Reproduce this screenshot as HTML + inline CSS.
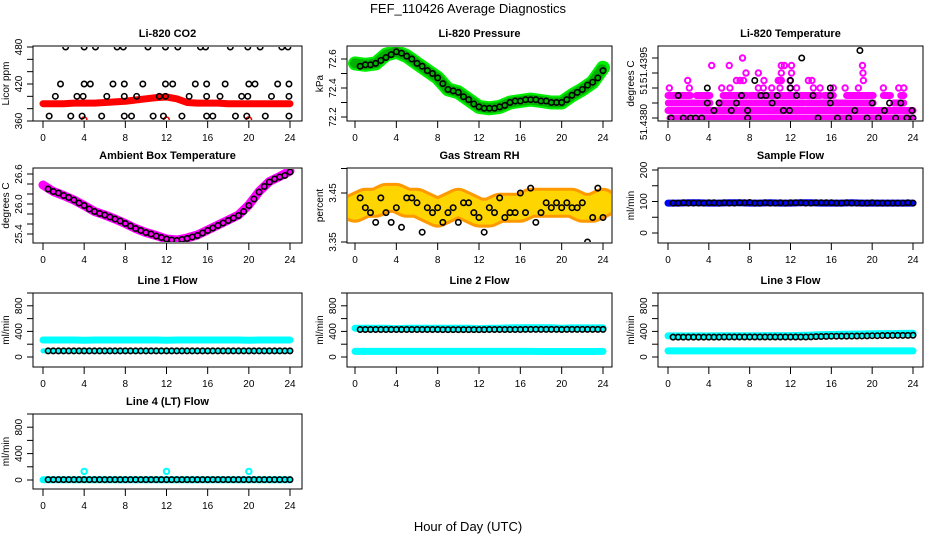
<!DOCTYPE html>
<html><head><meta charset="utf-8">
<style>
html,body{margin:0;padding:0;background:#fff;}
svg{display:block;font-family:"Liberation Sans",sans-serif;}
</style></head>
<body>
<svg id="chart" width="936" height="540" viewBox="0 0 936 540" xmlns="http://www.w3.org/2000/svg">
<rect width="936" height="540" fill="#fff"/>
<text x="468" y="13" text-anchor="middle" font-size="13">FEF_110426  Average Diagnostics</text>
<text x="468" y="531" text-anchor="middle" font-size="13">Hour of Day (UTC)</text>
</svg>
<script>
// ---------- data ----------
const hourly = [0,1,2,3,4,5,6,7,8,9,10,11,12,13,14,15,16,17,18,19,20,21,22,23,24];
const halfHours = [0.5,1,1.5,2,2.5,3,3.5,4,4.5,5,5.5,6,6.5,7,7.5,8,8.5,9,9.5,10,10.5,11,11.5,12,12.5,13,13.5,14,14.5,15,15.5,16,16.5,17,17.5,18,18.5,19,19.5,20,20.5,21,21.5,22,22.5,23,23.5,24];
const xTicks = [0,4,8,12,16,20,24];

const co2Band = [388,388,388,389,389,389,390,391,392,394,396,398,399,396,390,389,389,389,388,388,388,388,388,388,388];
const co2PtHours = [2.2,4.0,5.1,7.2,7.8,10.2,11.9,13.1,15.3,15.8,18.2,19.9,21.1,23.2,23.8,
 1.7,4,4.6,6.8,7.9,9.7,11.9,12.6,14.8,15.9,17.7,20,20.6,22.8,23.9,
 1.2,3.3,3.9,6.2,7.9,9.1,11.3,11.9,14.2,15.9,17.2,19.3,19.9,22.2,23.9,
 0.6,2.7,3.8,5.7,7.9,8.6,10.7,11.7,13.5,15.9,16.5,18.7,19.8,21.6,23.9];
const co2PtVals = [480,480,480,480,480,480,480,480,480,480,480,480,480,480,480,
 420,420,420,420,420,420,420,420,420,420,420,420,420,420,420,
 400,400,400,400,400,400,400,400,400,400,400,400,400,400,400,
 368,368,368,368,368,368,368,368,368,368,368,368,368,368,368];
const co2LowHours = [4,12,20];
const co2LowVals = [362,362,362];

const presBand = [72.57,72.56,72.57,72.63,72.65,72.62,72.57,72.52,72.47,72.39,72.37,72.32,72.27,72.26,72.27,72.30,72.31,72.32,72.31,72.30,72.30,72.35,72.39,72.44,72.54];
const presPts = [72.55,72.56,72.56,72.57,72.59,72.61,72.63,72.65,72.64,72.62,72.60,72.57,72.55,72.52,72.50,72.47,72.43,72.39,72.38,72.37,72.34,72.32,72.29,72.27,72.26,72.26,72.26,72.27,72.28,72.30,72.31,72.31,72.32,72.32,72.32,72.31,72.31,72.30,72.30,72.30,72.32,72.35,72.37,72.39,72.42,72.44,72.47,72.52];

const tempLevels = [51.4380,51.43825,51.4385,51.43875];
const tempRanges = [
 [[0.2,24]],
 [[0,24]],
 [[0.03,2.65],[2.8,4.1],[5.1,6.7],[7.06,9.0],[9.2,13.3],[13.6,15.9],[16.2,20.1],[22.1,23.1]],
 [[0,2.2],[2.8,4.1],[5.4,7.7],[8.0,10.6],[11.0,12.6],[13.0,14.9],[15.3,16.2],[17.5,20.1],[21.1,21.8],[22.8,23.1]]
];
const tempMagHours = [0.13,2.09,5.26,6.07,8.85,9.34,10.16,10.97,11.96,12.6,14.24,14.9,16.2,17.35,18.65,21.1,22.6,23.1,
 1.93,6.7,7.06,7.4,9.4,10.8,10.97,11.1,11.96,13.75,14.1,19.14,
 7.64,8.85,11.1,12.1,19.1, 4.28,6.0,11.1,11.4,12.1,19.05, 7.3];
const tempMagVals = [51.4390,51.4390,51.4390,51.4390,51.4390,51.4390,51.4390,51.4390,51.4390,51.4390,51.4390,51.4390,51.4390,51.4390,51.4390,51.4390,51.4390,51.4390,
 51.43925,51.43925,51.43925,51.43925,51.43925,51.43925,51.43925,51.43925,51.43925,51.43925,51.43925,51.43925,
 51.4395,51.4395,51.4395,51.4395,51.4395, 51.43975,51.43975,51.43975,51.43975,51.43975,51.43975, 51.4400];
const tempBlkHours = [1.0,3.85,3.85,4.5,5.0,6.2,6.7,7.2,7.8,7.8,8.5,9.1,9.6,10.2,10.7,11.3,11.9,12.0,12.0,12.6,13.1,14.2,14.7,15.9,15.9,15.9,16.6,17.7,18.3,18.8,19.5,20.0,20.6,21.2,21.7,22.3,22.8,23.4,23.9,24.0,1.5,2.2,2.7,3.3,0.3];
const tempBlkVals = [51.43875,51.4390,51.4385,51.43825,51.4385,51.43825,51.4385,51.43875,51.43825,51.4380,51.43925,51.43875,51.43875,51.4385,51.43875,51.43825,51.43825,51.4390,51.43925,51.43875,51.4400,51.43875,51.4380,51.4385,51.43875,51.4390,51.4380,51.4380,51.43825,51.44025,51.4380,51.4385,51.4380,51.43825,51.4385,51.4380,51.4385,51.4380,51.43825,51.4380,51.4380,51.4380,51.4380,51.4380,51.4380];

const ambBand = [26.38,26.25,26.17,26.08,25.97,25.85,25.78,25.70,25.61,25.51,25.43,25.37,25.30,25.28,25.32,25.38,25.48,25.58,25.68,25.78,25.98,26.25,26.45,26.55,26.66];
const ambPts = [26.30,26.25,26.22,26.17,26.13,26.08,26.02,25.97,25.90,25.85,25.81,25.78,25.74,25.70,25.66,25.61,25.56,25.51,25.47,25.43,25.40,25.36,25.33,25.30,25.28,25.27,25.29,25.31,25.34,25.37,25.42,25.47,25.52,25.57,25.62,25.67,25.72,25.77,25.85,25.97,26.10,26.24,26.35,26.44,26.50,26.54,26.57,26.64];

const rhBand = [3.42,3.43,3.43,3.44,3.44,3.43,3.43,3.42,3.41,3.42,3.43,3.42,3.41,3.41,3.42,3.42,3.42,3.43,3.43,3.43,3.43,3.43,3.42,3.42,3.43];
const rhPts = [3.44,3.42,3.41,3.39,3.44,3.41,3.39,3.42,3.38,3.44,3.44,3.43,3.37,3.42,3.41,3.42,3.39,3.41,3.42,3.39,3.43,3.43,3.41,3.40,3.37,3.42,3.41,3.44,3.40,3.41,3.41,3.45,3.41,3.46,3.39,3.41,3.43,3.42,3.43,3.42,3.43,3.42,3.42,3.43,3.35,3.40,3.46,3.40];

const sampleBand = [95,95,96,96,95,95,96,96,95,95,96,95,95,96,96,95,95,95,96,95,95,95,95,95,95];
const samplePts = [95,95,96,95,95,95,95,96,96,95,96,95,95,96,96,97,95,95,96,95,95,96,95,96,96,96,95,95,96,96,96,96,95,95,96,95,95,95,95,96,95,95,95,95,95,95,96,95];

const line1Cyan = [265,265,265,265,262,265,265,265,265,265,265,265,262,265,265,265,265,265,265,265,262,265,265,265,265];
const line1CyanLo = [95,95,95,95,95,95,95,95,95,95,95,95,95,95,95,95,95,95,95,95,95,95,95,95,95];
const line1Pts = [95,95,95,95,95,95,95,96,95,95,95,95,95,95,95,96,95,95,95,95,95,95,95,96,95,95,95,95,95,95,95,96,95,95,95,95,95,95,95,96,95,95,95,95,95,95,95,96];

const line2CyanHi = [450,450,450,450,440,450,450,450,450,450,450,450,440,450,450,455,458,458,458,458,450,455,455,455,455];
const line2CyanLo = [88,88,88,88,88,88,88,88,88,88,88,88,88,88,88,88,88,88,86,86,86,86,86,86,88];
const line2Pts = [430,430,430,430,430,430,430,430,430,430,430,430,430,430,430,430,428,428,428,428,428,428,428,428,428,430,430,430,430,430,430,430,432,432,432,432,432,432,432,430,432,432,432,432,432,432,432,432];

const line3CyanHi = [330,330,330,330,330,332,333,333,333,333,334,334,335,338,342,348,352,355,358,360,362,365,366,368,370];
const line3CyanLo = [95,95,95,96,96,96,96,96,96,96,96,96,96,96,96,96,96,96,96,96,96,96,95,95,95];
const line3Pts = [310,310,310,310,310,310,310,310,310,310,312,312,312,312,312,312,312,312,312,312,312,312,312,312,312,312,312,315,318,320,322,325,325,326,326,327,328,329,330,333,333,335,336,337,337,338,338,340];

const line4Cyan = [3,3,3,3,3,3,3,3,3,3,3,3,3,3,3,3,3,3,3,3,3,3,3,3,3];
const line4SpikeHours = [4,12,20];
const line4SpikeVals = [130,130,130];
const line4Pts = [5,5,5,5,5,5,5,5,5,5,5,5,5,5,5,5,5,5,5,5,5,5,5,5,5,5,5,5,5,5,5,5,5,5,5,5,5,5,5,5,5,5,5,5,5,5,5,5];

// ---------- layout ----------
const NS = "http://www.w3.org/2000/svg";
const svg = document.getElementById('chart');
const cols = [{l:33,r:302,x0:43,x24:290},{l:347,r:612,x0:355,x24:603},{l:658,r:923,x0:668,x24:913}];
const rows = [{t:46,b:121},{t:168,b:243},{t:293,b:367},{t:414,b:489}];

function mk(tag, parent, name) {
  const e = document.createElementNS(NS, tag);
  
  
  parent.appendChild(e);
  return e;
}
function setA(e, o){ for (const k in o) e.setAttribute(k, o[k]); return e; }

function panel(id, ci, ri, title, ylab, v0, p0, v1, p1, ticks, labels) {
  const c = cols[ci], r = rows[ri];
  const g = mk('g', svg, id + '-panel');
  const xs = h => c.x0 + (c.x24 - c.x0) * h / 24;
  const ys = v => p0 + (p1 - p0) * (v - v0) / (v1 - v0);
  setA(mk('text', g, id + '-title'), {x:(c.l+c.r)/2, y:r.t-9, 'text-anchor':'middle','font-size':11,'font-weight':'bold'}).textContent = title;
  setA(mk('rect', g, id + '-plot-frame'), {x:c.l, y:r.t, width:c.r-c.l, height:r.b-r.t, fill:'none', stroke:'#000', 'stroke-width':1});
  const xa = mk('g', g, id + '-x-axis');
  xTicks.forEach(t => {
    setA(mk('line', xa, id + '-x-tick'), {x1:xs(t), x2:xs(t), y1:r.b, y2:r.b+7, stroke:'#000'});
    setA(mk('text', xa, id + '-x-tick-label'), {x:xs(t), y:r.b+20, 'text-anchor':'middle','font-size':10}).textContent = t;
  });
  const ya = mk('g', g, id + '-y-axis');
  ticks.forEach(t => {
    setA(mk('line', ya, id + '-y-tick'), {x1:c.l-6, x2:c.l, y1:ys(t), y2:ys(t), stroke:'#000'});
  });
  labels.forEach(L => {
    const y = L.y !== undefined ? L.y : ys(L.v);
    setA(mk('text', ya, id + '-y-tick-label'), {x:0, y:0, 'text-anchor':'middle','font-size':10,
      transform:`translate(${c.l-11},${y}) rotate(-90)`}).textContent = L.t;
  });
  setA(mk('text', g, id + '-y-axis-title'), {x:0,y:0,'text-anchor':'middle','font-size':10,
    transform:`translate(${c.l-24},${(r.t+r.b)/2}) rotate(-90)`}).textContent = ylab;
  const clipId = id + '-clip';
  const cp = mk('clipPath', g, id + '-clip-path'); cp.setAttribute('id', clipId);
  setA(mk('rect', cp, id + '-clip-rect'), {x:c.l+1, y:r.t+1, width:c.r-c.l-2, height:r.b-r.t-2});
  const d = mk('g', g, id + '-data'); d.setAttribute('clip-path', `url(#${clipId})`);
  return {d, xs, ys};
}
function band(P, hours, vals, color, w, name) {
  const pts = hours.map((h,i) => P.xs(h).toFixed(1) + ',' + P.ys(vals[i]).toFixed(1)).join(' ');
  setA(mk('polyline', P.d, name), {points:pts, fill:'none', stroke:color, 'stroke-width':w, 'stroke-linecap':'round','stroke-linejoin':'round'});
}
function pts(P, hours, vals, color, name, r, sw) {
  hours.forEach((h,i) => {
    setA(mk('circle', P.d, name), {cx:P.xs(h), cy:P.ys(vals[i]), r:r||2.7, fill:'none', stroke:color, 'stroke-width':sw||1.6});
  });
}

// CO2
let P = panel('co2',0,0,'Li-820 CO2','Licor ppm',360,121,480,47,[360,380,400,420,440,460,480],[{v:360,t:'360'},{v:420,t:'420'},{v:480,t:'480'}]);
band(P, hourly, co2Band, '#ff0000', 7, 'co2-red-band');
pts(P, co2LowHours, co2LowVals, '#ff0000', 'co2-red-point');
pts(P, co2PtHours, co2PtVals, '#000', 'co2-black-point');

// Pressure
P = panel('pressure',1,0,'Li-820 Pressure','kPa',72.2,117,72.6,59,[72.2,72.3,72.4,72.5,72.6],[{v:72.2,t:'72.2'},{v:72.4,t:'72.4'},{v:72.6,t:'72.6'}]);
band(P, hourly, presBand, '#00ee00', 14, 'pressure-green-band');
band(P, hourly, presBand, '#006600', 10, 'pressure-dot-texture');
P.d.lastChild.setAttribute('stroke-dasharray','1 2');
P.d.lastChild.setAttribute('opacity','0.45');
pts(P, halfHours, presPts, '#000', 'pressure-black-point');

// Temperature
P = panel('temperature',2,0,'Li-820 Temperature','degrees C',51.4380,118,51.4395,73,[51.4380,51.4385,51.4390,51.4395,51.4400],[{y:122,t:'51.4380'},{y:89,t:'51'},{y:65,t:'51.4395'}]);
tempRanges.forEach((lvl,k) => lvl.forEach(rg => band(P, rg, [tempLevels[k],tempLevels[k]], '#ff00ff', 7, 'temperature-magenta-band')));
pts(P, tempMagHours, tempMagVals, '#ff00ff', 'temperature-magenta-point', 2.7, 2);
pts(P, tempBlkHours, tempBlkVals, '#000', 'temperature-black-point');

// Ambient box temperature
P = panel('ambient',0,1,'Ambient Box Temperature','degrees C',25.4,234,26.6,174,[25.4,25.6,25.8,26.0,26.2,26.4,26.6],[{v:25.4,t:'25.4'},{v:26.0,t:'26.0'},{v:26.6,t:'26.6'}]);
band(P, hourly, ambBand, '#ff00ff', 9, 'ambient-magenta-band');
pts(P, halfHours, ambPts, '#000', 'ambient-black-point');

// Gas stream RH
P = panel('rh',1,1,'Gas Stream RH','percent',3.35,242,3.45,193,[3.35,3.45,3.50],[{v:3.35,t:'3.35'},{v:3.45,t:'3.45'}]);
band(P, hourly, rhBand, '#ff9900', 30, 'rh-orange-band');
band(P, hourly, rhBand, '#ffee00', 24, 'rh-yellow-texture');
P.d.lastChild.setAttribute('stroke-dasharray','1 2');
P.d.lastChild.setAttribute('opacity','0.7');
pts(P, halfHours, rhPts, '#000', 'rh-black-point');

// Sample flow
P = panel('sample-flow',2,1,'Sample Flow','ml/min',0,233,200,170,[0,50,100,150,200],[{v:0,t:'0'},{v:100,t:'100'},{v:200,t:'200'}]);
band(P, hourly, sampleBand, '#0000ff', 7, 'sample-flow-blue-band');
pts(P, halfHours, samplePts, '#000', 'sample-flow-black-point');

const flowTicks = [0,200,400,600,800,1000];
const flowLabels = [{v:0,t:'0'},{v:400,t:'400'},{v:800,t:'800'}];
// Line 1
P = panel('line1',0,2,'Line 1 Flow','ml/min',0,357,1000,293,flowTicks,flowLabels);
band(P, hourly, line1Cyan, '#00ffff', 7, 'line1-cyan-band');
band(P, hourly, line1CyanLo, '#00ffff', 5, 'line1-cyan-low-band');
pts(P, halfHours, line1Pts, '#000', 'line1-black-point');
// Line 2
P = panel('line2',1,2,'Line 2 Flow','ml/min',0,357,1000,293,flowTicks,flowLabels);
band(P, hourly, line2CyanHi, '#00ffff', 7, 'line2-cyan-high-band');
band(P, hourly, line2CyanLo, '#00ffff', 7, 'line2-cyan-low-band');
pts(P, halfHours, line2Pts, '#000', 'line2-black-point');
// Line 3
P = panel('line3',2,2,'Line 3 Flow','ml/min',0,357,1000,293,flowTicks,flowLabels);
band(P, hourly, line3CyanHi, '#00ffff', 7, 'line3-cyan-high-band');
band(P, hourly, line3CyanLo, '#00ffff', 7, 'line3-cyan-low-band');
pts(P, halfHours, line3Pts, '#000', 'line3-black-point');
// Line 4
P = panel('line4',0,3,'Line 4 (LT) Flow','ml/min',0,480,1000,414,flowTicks,flowLabels);
band(P, hourly, line4Cyan, '#00ffff', 7, 'line4-cyan-band');
pts(P, line4SpikeHours, line4SpikeVals, '#00ffff', 'line4-cyan-spike', 2.7, 2);
pts(P, halfHours, line4Pts, '#000', 'line4-black-point');
</script>
</body></html>
